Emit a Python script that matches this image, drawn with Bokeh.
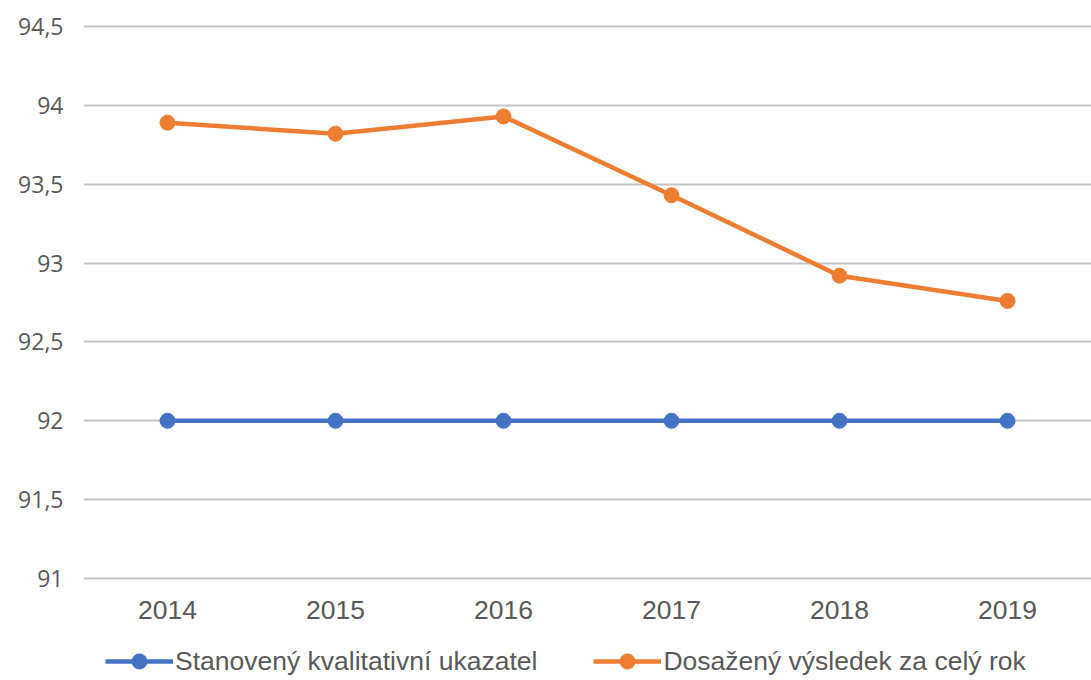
from bokeh.plotting import figure
from bokeh.layouts import column
from bokeh.models import FactorRange, Range1d, Legend, LegendItem, FixedTicker, CustomJSTickFormatter
from bokeh.embed import file_html
from bokeh.resources import INLINE

years = ["2014", "2015", "2016", "2017", "2018", "2019"]
target = [92, 92, 92, 92, 92, 92]
achieved = [93.89, 93.82, 93.93, 93.43, 92.92, 92.76]
y_ticks = [91, 91.5, 92, 92.5, 93, 93.5, 94, 94.5]
series_names = ["Stanovený kvalitativní ukazatel", "Dosažený výsledek za celý rok"]
colors = ["#4472C4", "#ED7D31"]

pad = 0.0127
p = figure(width=1091, height=630, x_range=FactorRange(*years, range_padding=0),
           y_range=Range1d(y_ticks[0] - pad, y_ticks[-1] + pad), output_backend="svg",
           toolbar_location=None, min_border_left=83, min_border_right=0, min_border_top=24,
           min_border_bottom=50)
p.outline_line_color = None
p.background_fill_color = "white"
p.border_fill_color = "white"

for vals, c in zip([target, achieved], colors):
    p.line(years, vals, line_color=c, line_width=4.5)
    p.scatter(years, vals, size=15, fill_color=c, line_color=c)

p.xgrid.grid_line_color = None
p.ygrid.grid_line_color = "#c4c4c4"
p.ygrid.grid_line_width = 2
p.yaxis.ticker = FixedTicker(ticks=y_ticks)
p.yaxis.formatter = CustomJSTickFormatter(code="return tick.toString().replace('.', ',');")
for ax in [p.xaxis[0], p.yaxis[0]]:
    ax.axis_line_color = None
    ax.major_tick_line_color = None
    ax.minor_tick_line_color = None
    ax.major_label_text_color = "#595959"
p.yaxis.major_label_text_font = "Open Sans"
p.yaxis.major_label_text_font_size = "23px"
p.yaxis.major_label_standoff = 14
p.xaxis.major_label_text_font = "Liberation Sans"
p.xaxis.major_label_text_font_size = "26.5px"
p.xaxis.major_label_standoff = 14

# legend strip below the chart (its series lie outside its own visible y range)
q = figure(width=1091, height=50, x_range=FactorRange(*years, range_padding=0),
           y_range=Range1d(0, 1), output_backend="svg", toolbar_location=None, min_border=0)
q.axis.visible = False
q.grid.visible = False
q.outline_line_color = None
q.background_fill_color = "white"
q.border_fill_color = "white"
items = []
for vals, name, c in zip([target, achieved], series_names, colors):
    l = q.line(years, vals, line_color=c, line_width=4.5)
    s = q.scatter(years, vals, size=15, fill_color=c, line_color=c)
    items.append(LegendItem(label=name, renderers=[l, s]))
legend = Legend(items=items, orientation="horizontal", location=(22, 0),
                label_text_font="Liberation Sans", label_text_font_size="26.5px",
                label_text_color="#595959", glyph_width=68, glyph_height=38,
                spacing=56, label_standoff=2, border_line_color=None,
                background_fill_alpha=0, margin=0, padding=0)
q.add_layout(legend, "center")

layout = column(p, q, spacing=0)
open("out.html", "w").write(file_html(layout, INLINE))
